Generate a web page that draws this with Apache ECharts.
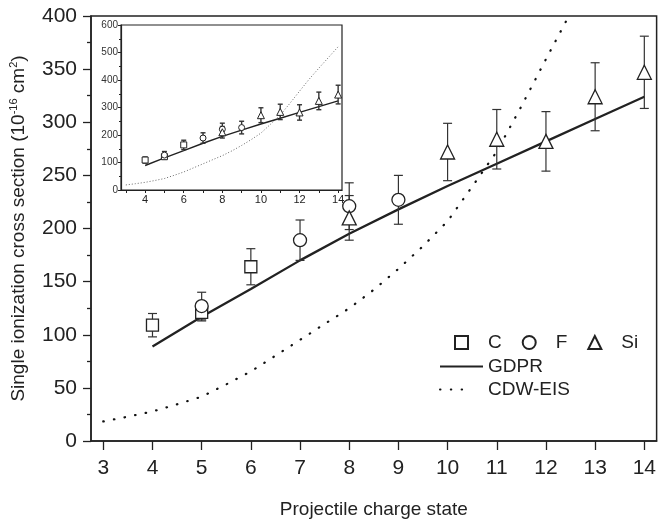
<!DOCTYPE html>
<html><head><meta charset="utf-8">
<script src="https://cdn.jsdelivr.net/npm/echarts@6/dist/echarts.min.js"></script>
<style>html,body{margin:0;padding:0;background:#fff}#c{width:659px;height:524px}</style>
</head><body><div id="c"></div>
<script>
// ---- data ----
const cCharge = [4, 5, 6];
const cValue = [109, 121, 164];
const cError = [11, 8, 17];
const fCharge = [5, 7, 8, 9];
const fValue = [127, 189, 221, 227];
const fError = [13, 19, 22, 23];
const siCharge = [8, 10, 11, 12, 13, 14];
const siValue = [210, 272, 284, 282, 324, 347];
const siError = [21, 27, 28, 28, 32, 34];
const gdprCharge = [4, 5, 6, 7, 8, 9, 10, 11, 12, 13, 14];
const gdprValue = [89, 117, 143, 170, 195, 218, 240, 261, 282, 303, 324];
const cdwCharge = [3, 3.5, 4, 4.5, 5, 5.5, 6, 6.5, 7, 7.5, 8, 8.5, 9, 9.5, 10, 10.5, 11, 11.5, 12, 12.5, 13, 13.5, 14];
const cdwValue = [18.4, 22.9, 27.8, 34.5, 41.7, 53.3, 65.5, 80.3, 95.2, 110.2, 124.9, 142.4, 162, 183.4, 206.9, 239.4, 272.4, 315, 359.4, 403, 443, 482, 521];
const mainXTicks = [3, 4, 5, 6, 7, 8, 9, 10, 11, 12, 13, 14];
const insetXLabels = [4, 6, 8, 10, 12, 14];
const insetXTicks = [3, 4, 5, 6, 7, 8, 9, 10, 11, 12, 13, 14];

// ---- helpers ----
const pts = (xs, ys) => xs.map((x, i) => [x, ys[i]]);
const bars = (xs, ys, es) => xs.map((x, i) => [x, ys[i] - es[i], ys[i] + es[i]]);
const FONT = '"Liberation Sans", Arial, sans-serif';
const INK = '#222';

function errorSeries(data, gi, cap, lw) {
  return {
    type: 'custom', xAxisIndex: gi, yAxisIndex: gi, silent: true, z: 3,
    encode: { x: 0, y: [1, 2] },
    data: data,
    renderItem: function (params, api) {
      const x = api.value(0);
      const lo = api.coord([x, api.value(1)]);
      const hi = api.coord([x, api.value(2)]);
      const st = { stroke: '#333', lineWidth: lw };
      return { type: 'group', children: [
        { type: 'line', shape: { x1: lo[0], y1: lo[1], x2: hi[0], y2: hi[1] }, style: st },
        { type: 'line', shape: { x1: lo[0] - cap, y1: lo[1], x2: lo[0] + cap, y2: lo[1] }, style: st },
        { type: 'line', shape: { x1: hi[0] - cap, y1: hi[1], x2: hi[0] + cap, y2: hi[1] }, style: st }
      ]};
    }
  };
}
function markerSeries(name, data, gi, symbol, size, bw) {
  return {
    name: name, type: 'scatter', xAxisIndex: gi, yAxisIndex: gi, z: 5,
    symbol: symbol, symbolSize: size, data: data,
    itemStyle: { color: '#fff', borderColor: INK, borderWidth: bw, opacity: 1 },
    emphasis: { disabled: true }
  };
}

const chart = echarts.init(document.getElementById('c'), null, { renderer: 'canvas' });
const option = {
  animation: false,
  textStyle: { fontFamily: FONT, color: INK },
  grid: [
    { left: 91, top: 16, width: 567, height: 427, show: true, borderColor: INK, borderWidth: 1.5, backgroundColor: 'transparent' },
    { left: 121, top: 25, width: 221, height: 165, show: true, borderColor: INK, borderWidth: 1.2, backgroundColor: 'transparent' }
  ],
  xAxis: [
    {
      type: 'value', gridIndex: 0, min: 2.75, max: 14.25,
      name: 'Projectile charge state', nameLocation: 'middle', nameGap: 59,
      nameTextStyle: { fontFamily: FONT, fontSize: 19, color: INK },
      axisLine: { show: true, lineStyle: { color: INK, width: 1.5 } },
      axisTick: { show: true, inside: false, length: 9, customValues: mainXTicks, lineStyle: { color: INK, width: 1.3 } },
      axisLabel: { show: true, margin: 17, fontSize: 21, color: INK, fontFamily: FONT, customValues: mainXTicks },
      splitLine: { show: false }
    },
    {
      type: 'value', gridIndex: 1, min: 2.75, max: 14.2,
      axisLine: { show: true, lineStyle: { color: INK, width: 1.2 } },
      axisTick: { show: true, inside: false, length: 3, customValues: insetXTicks, lineStyle: { color: INK, width: 1 } },
      axisLabel: { show: true, margin: 4, fontSize: 11, color: INK, fontFamily: FONT, customValues: insetXLabels },
      splitLine: { show: false }
    }
  ],
  yAxis: [
    {
      type: 'value', gridIndex: 0, min: 0, max: 400, interval: 50,
      name: 'Single ionization cross section (10{sup|-16} cm{sup|2})',
      nameLocation: 'middle', nameGap: 61, nameRotate: 90,
      nameTextStyle: {
        fontFamily: FONT, fontSize: 19, color: INK, lineHeight: 22,
        rich: { sup: { fontSize: 11, fontFamily: FONT, color: INK, verticalAlign: 'top', lineHeight: 22, padding: [0, 0, 9, 0] } }
      },
      axisLine: { show: true, lineStyle: { color: INK, width: 1.5 } },
      axisTick: { show: true, inside: false, length: 8, lineStyle: { color: INK, width: 1.3 } },
      minorTick: { show: true, splitNumber: 2, length: 4, lineStyle: { color: INK, width: 1.3 } },
      axisLabel: { show: true, margin: 14, fontSize: 21, color: INK, fontFamily: FONT },
      splitLine: { show: false }, minorSplitLine: { show: false }
    },
    {
      type: 'value', gridIndex: 1, min: 0, max: 600, interval: 100,
      axisLine: { show: true, lineStyle: { color: INK, width: 1.2 } },
      axisTick: { show: true, inside: false, length: 3, lineStyle: { color: INK, width: 1 } },
      minorTick: { show: true, splitNumber: 2, length: 2, lineStyle: { color: INK, width: 1 } },
      axisLabel: { show: true, margin: 3, fontSize: 10, color: '#333', fontFamily: FONT },
      splitLine: { show: false }, minorSplitLine: { show: false }
    }
  ],
  legend: [
    {
      data: ['C', 'F', 'Si'], left: 454, top: 333, orient: 'horizontal', padding: 0,
      itemWidth: 13, itemHeight: 13, itemGap: 20, selectedMode: false,
      textStyle: { fontFamily: FONT, fontSize: 19, color: INK, padding: [0, 0, 0, 15] }
    },
    {
      data: ['GDPR'], left: 439, top: 357, padding: 0, itemWidth: 43, itemHeight: 12, itemGap: 6, selectedMode: false,
      itemStyle: { opacity: 0 },
      textStyle: { fontFamily: FONT, fontSize: 19, color: INK }
    },
    {
      data: ['CDW-EIS'], left: 439, top: 380, padding: 0, itemWidth: 31, itemHeight: 12, itemGap: 6, selectedMode: false,
      itemStyle: { opacity: 0 },
      textStyle: { fontFamily: FONT, fontSize: 19, color: INK, padding: [0, 0, 0, 12] }
    }
  ],
  series: [
    // main plot
    {
      name: 'CDW-EIS', type: 'line', xAxisIndex: 0, yAxisIndex: 0, data: pts(cdwCharge, cdwValue),
      showSymbol: false, symbol: 'none', smooth: false, clip: true, z: 2,
      itemStyle: { color: '#111' },
      lineStyle: { color: '#111', width: 2.2, type: [0.5, 10.3], cap: 'round' }
    },
    {
      name: 'GDPR', type: 'line', xAxisIndex: 0, yAxisIndex: 0, data: pts(gdprCharge, gdprValue),
      showSymbol: false, symbol: 'none', smooth: false, z: 2,
      itemStyle: { color: INK },
      lineStyle: { color: INK, width: 2.3 }
    },
    errorSeries(bars(cCharge, cValue, cError), 0, 4.5, 1.2),
    errorSeries(bars(fCharge, fValue, fError), 0, 4.5, 1.2),
    errorSeries(bars(siCharge, siValue, siError), 0, 4.5, 1.2),
    markerSeries('C', pts(cCharge, cValue), 0, 'rect', 12, 1.3),
    markerSeries('F', pts(fCharge, fValue), 0, 'circle', 13, 1.3),
    markerSeries('Si', pts(siCharge, siValue), 0, 'triangle', 14, 1.3),
    // inset
    {
      name: 'CDW-EIS inset', type: 'line', xAxisIndex: 1, yAxisIndex: 1, data: pts(cdwCharge, cdwValue),
      showSymbol: false, symbol: 'none', z: 2,
      lineStyle: { color: '#666', width: 1, type: [1, 2] }
    },
    {
      name: 'GDPR inset', type: 'line', xAxisIndex: 1, yAxisIndex: 1, data: pts(gdprCharge, gdprValue),
      showSymbol: false, symbol: 'none', z: 2,
      lineStyle: { color: INK, width: 1.4 }
    },
    errorSeries(bars(cCharge, cValue, cError), 1, 2.5, 1.4),
    errorSeries(bars(fCharge, fValue, fError), 1, 2.5, 1.4),
    errorSeries(bars(siCharge, siValue, siError), 1, 2.5, 1.4),
    markerSeries('C inset', pts(cCharge, cValue), 1, 'rect', 6, 1),
    markerSeries('F inset', pts(fCharge, fValue), 1, 'circle', 6, 1),
    markerSeries('Si inset', pts(siCharge, siValue), 1, 'triangle', 7, 1)
  ]
};
chart.setOption(option);
</script>
</body></html>
